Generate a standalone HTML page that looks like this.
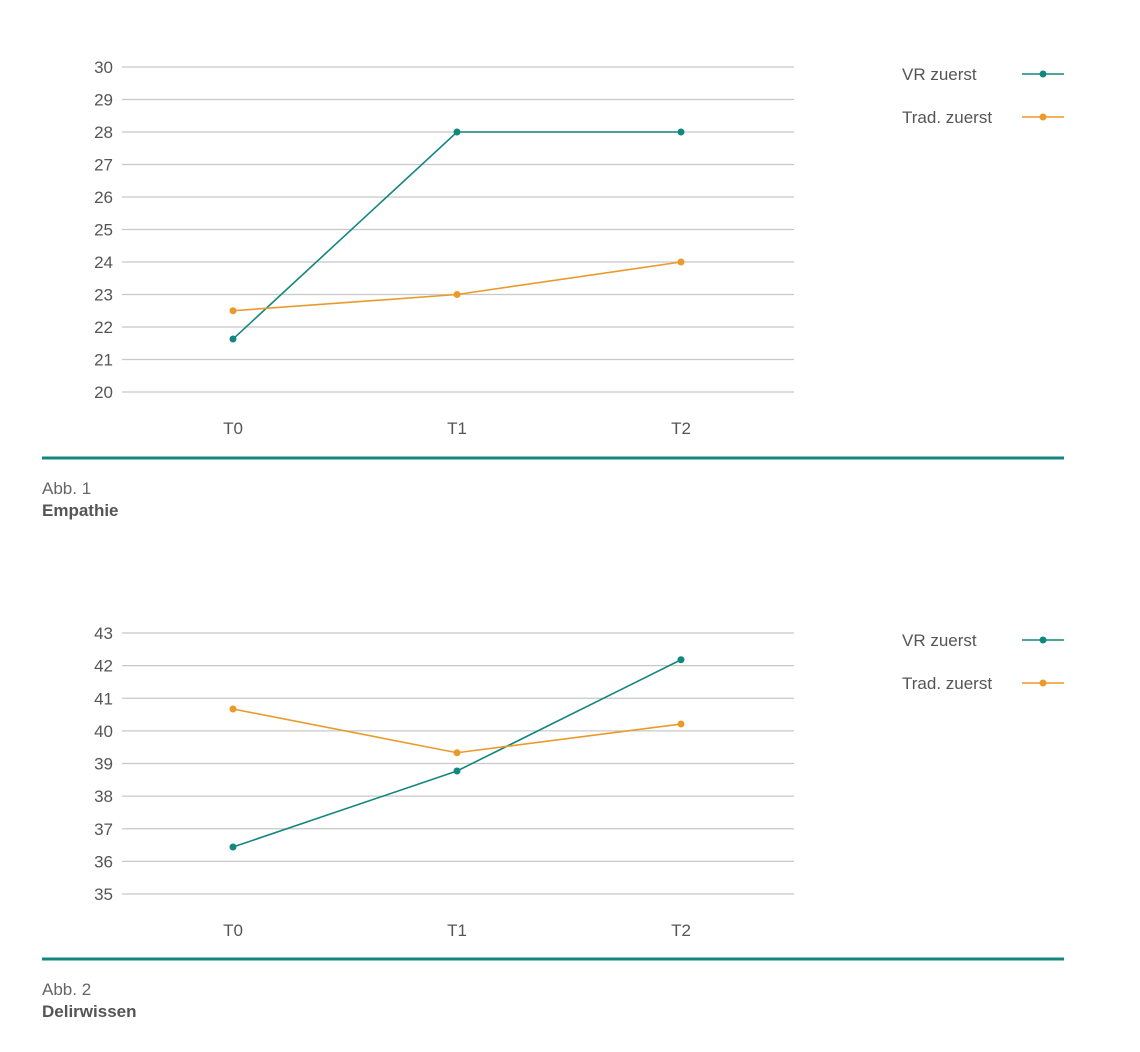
<!DOCTYPE html>
<html><head><meta charset="utf-8"><style>
body{margin:0;background:#fff;width:1140px;height:1052px;overflow:hidden;font-family:"Liberation Sans",sans-serif}
svg{display:block}
</style></head><body>
<svg id="s" width="1140" height="1052"></svg>
<script>
const categories=["T0","T1","T2"];
const empVR=[21.63,28,28];
const empTrad=[22.5,23,24];
const empTicks=[20,21,22,23,24,25,26,27,28,29,30];
const delVR=[36.44,38.77,42.18];
const delTrad=[40.67,39.33,40.21];
const delTicks=[35,36,37,38,39,40,41,42,43];
const seriesNames=["VR zuerst","Trad. zuerst"];
const captions=[["Abb. 1","Empathie"],["Abb. 2","Delirwissen"]];
const TEAL="#13877f",ORANGE="#ea9a2a";
const NS="http://www.w3.org/2000/svg";
const svg=document.getElementById('s');
function mk(t,a,p){const e=document.createElementNS(NS,t);for(const k in a)e.setAttribute(k,a[k]);(p||svg).appendChild(e);return e;}
function chart(idx,ticks,vr,trad,yTop,yBot,ruleY){
  const g=mk('g',{});
  
  
  const lo=ticks[0],hi=ticks[ticks.length-1];
  const y=v=>yBot-(v-lo)/(hi-lo)*(yBot-yTop);
  const x=i=>233+i*224;
  ticks.forEach(t=>{
    const l=mk('line',{x1:122,x2:794,y1:y(t),y2:y(t),stroke:'#c8c8c8','stroke-width':1.2},g);
    
    
    const tx=mk('text',{x:113,y:y(t)+6,'text-anchor':'end','font-size':17,fill:'#555'},g);
    tx.textContent=t;
    
    
  });
  categories.forEach((c,i)=>{
    const tx=mk('text',{x:x(i),y:yBot+42,'text-anchor':'middle','font-size':17,fill:'#555'},g);
    tx.textContent=c;
    
    
  });
  [[vr,TEAL],[trad,ORANGE]].forEach(([d,col],si)=>{
    const p=mk('polyline',{points:d.map((v,i)=>x(i)+','+y(v)).join(' '),fill:'none',stroke:col,'stroke-width':1.6},g);
    
    
    d.forEach((v,i)=>{
      const c=mk('circle',{cx:x(i),cy:y(v),r:3.5,fill:col},g);
      
      
    });
    const ly=yTop+7+si*43;
    const t=mk('text',{x:902,y:ly+6,'font-size':17,fill:'#555'},g);
    t.textContent=seriesNames[si];
    
    
    const ll=mk('line',{x1:1022,x2:1064,y1:ly,y2:ly,stroke:col,'stroke-width':1.6},g);
    
    
    const lc=mk('circle',{cx:1043,cy:ly,r:3.5,fill:col},g);
    
    
  });
  const r=mk('line',{x1:42,x2:1064,y1:ruleY,y2:ruleY,stroke:TEAL,'stroke-width':3},g);
  
  
  const a=mk('text',{x:42,y:ruleY+36,'font-size':17,fill:'#666'},g);
  a.textContent=captions[idx][0];
  
  
  const b=mk('text',{x:42,y:ruleY+58,'font-size':17,'font-weight':'bold',fill:'#555'},g);
  b.textContent=captions[idx][1];
  
  
}
chart(0,empTicks,empVR,empTrad,67,392,458);
chart(1,delTicks,delVR,delTrad,633,894,959);
</script>
</body></html>
